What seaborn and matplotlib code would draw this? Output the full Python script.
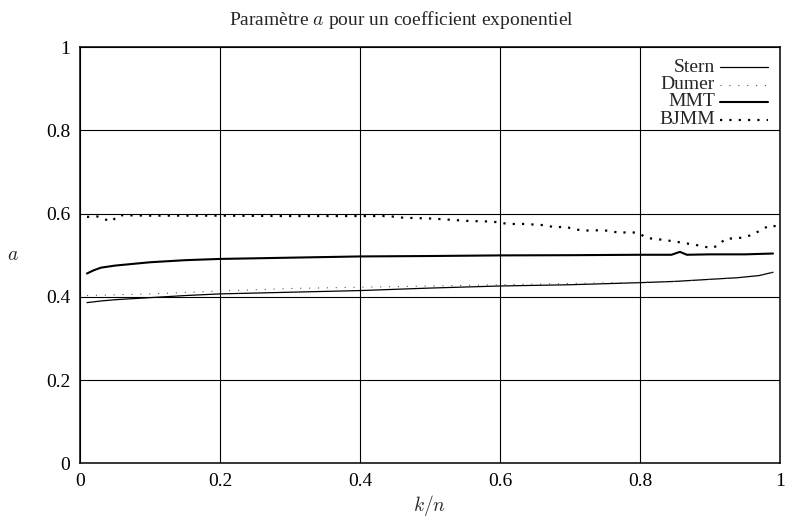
import pandas as pd
import numpy as np
import matplotlib as mpl
mpl.use("Agg")
import matplotlib.pyplot as plt
import seaborn as sns

### DATA ###
stern_x = [0.01, 0.03, 0.05, 0.1, 0.15, 0.2, 0.3, 0.4, 0.5, 0.6, 0.7, 0.8, 0.85, 0.9, 0.94, 0.97, 0.99]
stern_a = [0.386, 0.390, 0.393, 0.398, 0.403, 0.407, 0.411, 0.415, 0.421, 0.426, 0.429, 0.434, 0.437, 0.442, 0.446, 0.451, 0.459]

dumer_x = [0.01, 0.1, 0.2, 0.3, 0.4, 0.5, 0.6, 0.7, 0.8, 0.85, 0.9, 0.94, 0.97, 0.99]
dumer_a = [0.403, 0.407, 0.414, 0.420, 0.423, 0.426, 0.429, 0.432, 0.435, 0.437, 0.442, 0.446, 0.451, 0.459]

mmt_x = [0.01, 0.02, 0.03, 0.05, 0.1, 0.15, 0.2, 0.3, 0.4, 0.5, 0.6, 0.7, 0.8, 0.845, 0.857, 0.867, 0.9, 0.95, 0.99]
mmt_a = [0.456, 0.464, 0.470, 0.475, 0.483, 0.488, 0.491, 0.494, 0.497, 0.498, 0.4995, 0.500, 0.501, 0.501, 0.508, 0.501, 0.502, 0.502, 0.504]

bjmm_x = [0.01, 0.025, 0.036, 0.045, 0.055, 0.1, 0.2, 0.3, 0.44, 0.462, 0.503, 0.53, 0.557, 0.584,
          0.598, 0.611, 0.638, 0.652, 0.666, 0.679, 0.692, 0.705, 0.719, 0.745, 0.759, 0.771, 0.784,
          0.798, 0.81, 0.823, 0.836, 0.85, 0.863, 0.876, 0.89, 0.903, 0.913, 0.922, 0.935, 0.949,
          0.962, 0.973, 0.986, 0.995]
bjmm_a = [0.592, 0.593, 0.586, 0.581, 0.596, 0.595, 0.595, 0.594, 0.594, 0.590, 0.588, 0.585, 0.582, 0.581,
          0.579, 0.575, 0.575, 0.573, 0.572, 0.566, 0.569, 0.563, 0.559, 0.560, 0.558, 0.553, 0.556,
          0.553, 0.541, 0.539, 0.536, 0.533, 0.529, 0.526, 0.521, 0.517, 0.525, 0.540, 0.540, 0.543,
          0.550, 0.561, 0.572, 0.569]

x_ticks = [0, 0.2, 0.4, 0.6, 0.8, 1]
x_tick_labels = ["0", "0.2", "0.4", "0.6", "0.8", "1"]
y_ticks = [0, 0.2, 0.4, 0.6, 0.8, 1]
y_tick_labels = ["0", "0.2", "0.4", "0.6", "0.8", "1"]

### STYLE ###
sns.set_style("white")
plt.rcParams['font.family'] = ['Liberation Serif', 'DejaVu Serif']
plt.rcParams['mathtext.fontset'] = 'cm'

fig = plt.figure(figsize=(7.91, 5.21), dpi=100)
ax = fig.add_axes([0.1011, 0.1107, 0.8850, 0.7990])

# series styles: (label, x, y, colour, width, linestyle)
series = [
    ('Stern', stern_x, stern_a, 'black', 0.9, '-'),
    ('Dumer', dumer_x, dumer_a, '#555555', 0.8, (0, (1, 7))),
    ('MMT', mmt_x, mmt_a, 'black', 1.5, '-'),
    ('BJMM', bjmm_x, bjmm_a, 'black', 1.6, (0, (1, 3.2))),
]

# PLOT SERIES
for name, xs, ys, col, lw, ls in series:
    sns.lineplot(x=xs, y=ys, ax=ax, color=col, linewidth=lw, linestyle=ls, legend=False)

# AXES
ax.set_xlim(0, 1)
ax.set_ylim(0, 1)
ax.set_xticks(x_ticks)
ax.set_xticklabels(x_tick_labels)
ax.set_yticks(y_ticks)
ax.set_yticklabels(y_tick_labels)
ax.grid(True, color='black', linewidth=0.8)
for sp in ax.spines.values():
    sp.set_color('black')
    sp.set_linewidth(1.1)
ax.tick_params(direction='in', length=4, width=0.8, labelsize=14, pad=7, colors='black')

ax.set_xlabel(r'$k/n$', fontsize=14, labelpad=2)
ax.set_ylabel(r'$a$', fontsize=14, rotation=0, labelpad=24, va='center')
ax.set_title(r'Paramètre $a$ pour un coefficient exponentiel', fontsize=14, pad=16, x=0.459)

# LEGEND (gnuplot style: label right aligned, sample to its right)
row_y = [0.952, 0.910, 0.868, 0.825]
for (name, xs, ys, col, lw, ls), yy in zip(series, row_y):
    ax.text(0.907, yy, name, transform=ax.transAxes, ha='right', va='center', fontsize=14)
    ax.plot([0.914, 0.983], [yy, yy], transform=ax.transAxes, color=col, linewidth=lw, linestyle=ls)

plt.savefig('out.png', dpi=100)
